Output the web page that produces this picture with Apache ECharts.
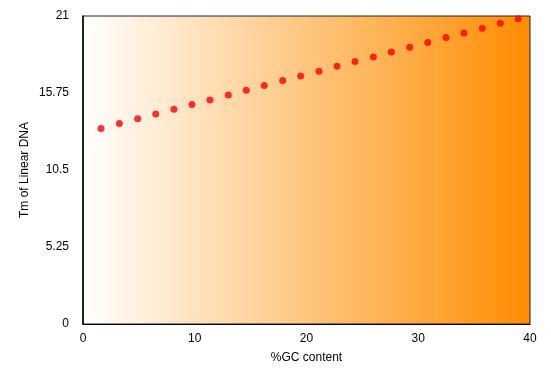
<!DOCTYPE html>
<html>
<head>
<meta charset="utf-8">
<script src="https://cdn.jsdelivr.net/npm/echarts@6/dist/echarts.min.js"></script>
<style>html,body{margin:0;padding:0;background:#fff}#c{width:551px;height:369px}</style>
</head>
<body>
<div id="c"></div>
<script>
var gcContent = [1.61,3.25,4.89,6.51,8.14,9.75,11.36,13.00,14.61,16.22,17.87,19.48,21.12,22.73,24.34,25.98,27.59,29.24,30.85,32.48,34.09,35.73,37.34,38.95];
var tmValues = [13.33,13.67,13.99,14.31,14.65,14.97,15.28,15.62,15.94,16.26,16.60,16.91,17.23,17.57,17.90,18.21,18.55,18.87,19.19,19.53,19.84,20.16,20.50,20.82];
var yTicks = [0, 5.25, 10.5, 15.75, 21];
var xTicks = [0, 10, 20, 30, 40];

var points = gcContent.map(function(x, i){ return [x, tmValues[i]]; });
var font = 'Liberation Sans, Arial, Helvetica, sans-serif';
var chart = echarts.init(document.getElementById('c'));
chart.setOption({
  animation: false,
  grid: {
    left: 83, right: 21, top: 16, bottom: 45,
    show: true,
    borderColor: '#222', borderWidth: 1,
    backgroundColor: new echarts.graphic.LinearGradient(0, 0, 1, 0, [
      {offset: 0, color: '#ffffff'},
      {offset: 1, color: '#ff8c00'}
    ])
  },
  xAxis: {
    type: 'value', min: xTicks[0], max: xTicks[xTicks.length-1], interval: 10,
    name: '%GC content', nameLocation: 'middle', nameGap: 28,
    nameTextStyle: {fontFamily: font, fontSize: 12, color: '#000'},
    axisLine: {show: true, lineStyle: {color: '#000', width: 1}},
    axisTick: {show: false},
    splitLine: {show: false},
    axisLabel: {fontFamily: font, fontSize: 12, color: '#000', margin: 9}
  },
  yAxis: {
    type: 'value', min: yTicks[0], max: yTicks[yTicks.length-1], interval: 5.25,
    name: 'Tm of Linear DNA', nameLocation: 'middle', nameGap: 52, nameRotate: 90,
    nameMoveOverlap: false,
    nameTextStyle: {fontFamily: font, fontSize: 12, color: '#000'},
    axisLine: {show: true, lineStyle: {color: '#000', width: 1.5}},
    axisTick: {show: false},
    splitLine: {show: false},
    axisLabel: {fontFamily: font, fontSize: 12, color: '#000', margin: 14}
  },
  series: [{
    type: 'scatter',
    data: points,
    symbol: 'circle',
    symbolSize: 7,
    itemStyle: {color: '#ff0000'}
  }]
});
</script>
</body>
</html>
